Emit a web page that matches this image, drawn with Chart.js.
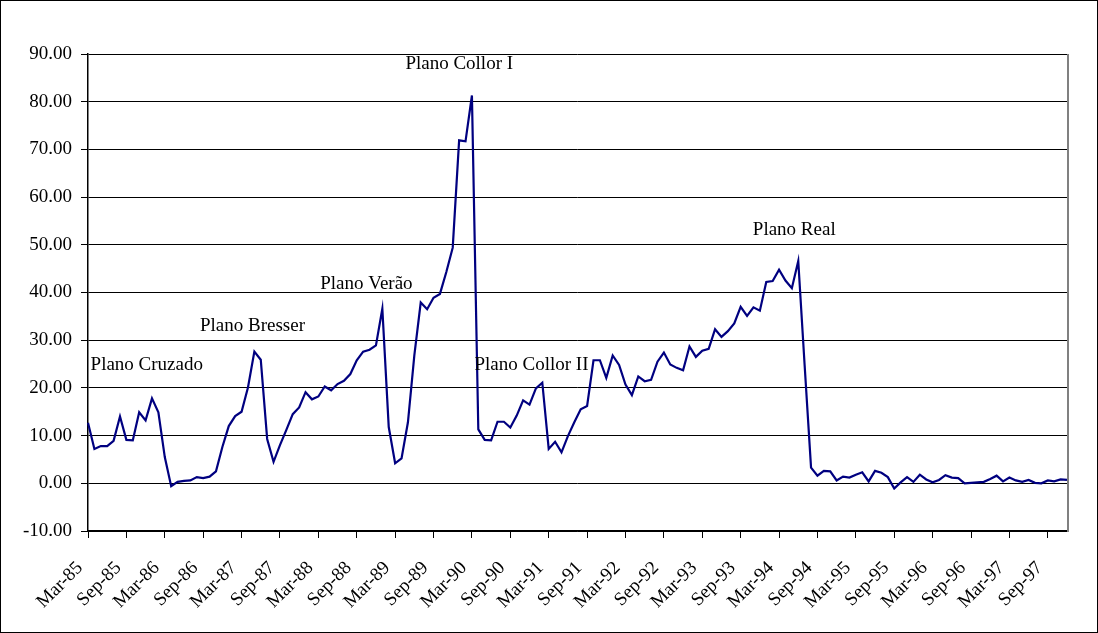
<!DOCTYPE html>
<html>
<head>
<meta charset="utf-8">
<script src="https://cdn.jsdelivr.net/npm/chart.js@4.4.1/dist/chart.umd.min.js"></script>
<style>
  html, body { margin: 0; padding: 0; background: #fff; }
  #wrap { width: 1098px; height: 633px; }
</style>
</head>
<body>
<div id="wrap"><canvas id="inflChart" width="1098" height="633"></canvas></div>
<script>
// Monthly inflation (%), Mar-85 .. Dec-97
const monthNames = ['Jan','Feb','Mar','Apr','May','Jun','Jul','Aug','Sep','Oct','Nov','Dec'];
const months = [];
for (let i = 0; i < 154; i++) {
  const m = (2 + i) % 12;
  const y = 85 + Math.floor((2 + i) / 12);
  months.push(monthNames[m] + '-' + String(y).padStart(2, '0'));
}

const rates85 = [12.7, 7.2, 7.8, 7.8, 8.9, 14.0, 9.1, 9.0, 14.9, 13.2];
const rates86 = [17.8, 14.9, 5.5, -0.6, 0.3, 0.5, 0.6, 1.3, 1.1, 1.4, 2.5, 7.6];
const rates87 = [12.0, 14.1, 15.0, 20.1, 27.6, 25.9, 9.3, 4.5, 8.0, 11.2, 14.5, 15.9];
const rates88 = [19.1, 17.6, 18.2, 20.3, 19.5, 20.8, 21.5, 22.9, 25.8, 27.6, 28.0, 28.9];
const rates89 = [36.6, 11.8, 4.2, 5.2, 12.8, 26.8, 37.9, 36.5, 38.9, 39.7, 44.3, 49.4];
const rates90 = [71.9, 71.7, 81.3, 11.3, 9.1, 9.0, 12.9, 12.9, 11.7, 14.2, 17.4, 16.5];
const rates91 = [19.9, 21.1, 7.2, 8.7, 6.5, 9.9, 12.8, 15.5, 16.2, 25.8, 25.8, 22.1];
const rates92 = [26.8, 24.8, 20.7, 18.5, 22.4, 21.4, 21.7, 25.5, 27.4, 24.9, 24.2, 23.7];
const rates93 = [28.7, 26.5, 27.8, 28.2, 32.3, 30.7, 31.9, 33.5, 37.0, 35.1, 36.9, 36.2];
const rates94 = [42.2, 42.4, 44.8, 42.5, 40.9, 46.6, 24.7, 3.3, 1.6, 2.6, 2.5, 0.6];
const rates95 = [1.4, 1.2, 1.8, 2.3, 0.4, 2.6, 2.2, 1.3, -1.1, 0.2, 1.3, 0.3];
const rates96 = [1.8, 0.8, 0.2, 0.7, 1.7, 1.2, 1.1, 0.0, 0.1, 0.2, 0.3, 0.9];
const rates97 = [1.6, 0.4, 1.2, 0.6, 0.3, 0.7, 0.1, 0.0, 0.6, 0.4, 0.8, 0.7];
const rates = [].concat(rates85, rates86, rates87, rates88, rates89, rates90, rates91,
  rates92, rates93, rates94, rates95, rates96, rates97);

const yTicks = [-10, 0, 10, 20, 30, 40, 50, 60, 70, 80, 90];

// plan labels: text, month index (left edge), value (vertical centre)
const planNames = ['Plano Cruzado', 'Plano Bresser', 'Plano Verão', 'Plano Collor I', 'Plano Collor II', 'Plano Real'];
const planIdx = [0.4, 17.5, 36.3, 49.6, 60.4, 103.9];
const planVal = [24.7, 32.9, 41.7, 87.8, 24.9, 53.2];

const FONT = "'Liberation Serif', 'Times New Roman', serif";

const framePlugin = {
  id: 'frame',
  afterDraw(chart) {
    const { ctx, chartArea: a, scales } = chart;
    ctx.save();
    // plot area right edge
    ctx.strokeStyle = '#808080';
    ctx.lineWidth = 2;
    ctx.beginPath();
    ctx.moveTo(a.right + 1, a.top);
    ctx.lineTo(a.right + 1, a.bottom + 1);
    ctx.stroke();
    // outer frame
    ctx.lineWidth = 1;
    ctx.strokeStyle = '#000';
    ctx.strokeRect(0.5, 0.5, chart.width - 1, chart.height - 1);
    // plan labels
    ctx.fillStyle = '#000';
    ctx.font = '19px ' + FONT;
    ctx.textAlign = 'left';
    ctx.textBaseline = 'middle';
    planNames.forEach((t, i) => {
      ctx.fillText(t, scales.x.getPixelForValue(planIdx[i]), scales.y.getPixelForValue(planVal[i]));
    });
    ctx.restore();
  }
};

new Chart(document.getElementById('inflChart'), {
  type: 'line',
  data: {
    labels: months,
    datasets: [{
      data: rates,
      borderColor: '#000080',
      borderWidth: 2.2,
      pointRadius: 0,
      tension: 0,
      fill: false,
    }],
  },
  options: {
    responsive: false,
    animation: false,
    layout: { padding: { top: 54, right: 31, left: 0, bottom: 0 } },
    plugins: { legend: { display: false }, tooltip: { enabled: false } },
    scales: {
      x: {
        type: 'category',
        offset: false,
        afterBuildTicks: s => { s.ticks = s.ticks.filter(t => t.value % 6 === 0); },
        afterFit: s => { s.height = 102; },
        grid: { drawOnChartArea: false, drawTicks: true, tickLength: 7, color: '#000' },
        border: { color: '#000', width: 1.5 },
        ticks: {
          autoSkip: false, minRotation: 45, maxRotation: 45,
          color: '#000', font: { family: FONT, size: 19 }, padding: 19, labelOffset: -8,
        },
      },
      y: {
        min: -10, max: 90,
        afterBuildTicks: s => { s.ticks = yTicks.map(v => ({ value: v })); },
        afterFit: s => { s.width = 88; },
        grid: { color: '#000', lineWidth: 1, drawTicks: true, tickLength: 7 },
        border: { color: '#000', width: 1.5 },
        ticks: {
          color: '#000', font: { family: FONT, size: 19 }, padding: 9,
          callback: v => v.toFixed(2),
        },
      },
    },
  },
  plugins: [framePlugin],
});
</script>
</body>
</html>
